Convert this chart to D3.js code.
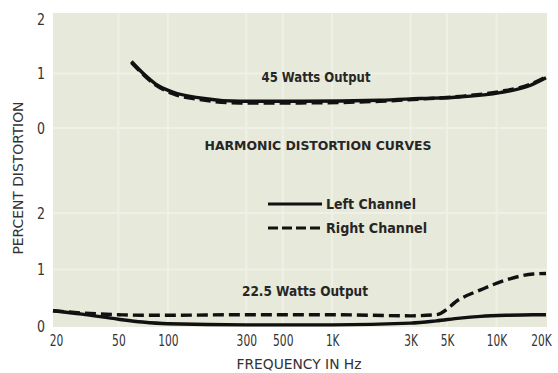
<!DOCTYPE html>
<html>
<head>
<meta charset="utf-8">
<script src="https://cdn.jsdelivr.net/npm/d3@7"></script>
<style>
  html, body { margin: 0; padding: 0; background: #ffffff; }
  svg { display: block; }
  .cond { font-family: "Liberation Sans Narrow", "DejaVu Sans Condensed", "Roboto Condensed", "Liberation Sans", sans-serif; }
</style>
</head>
<body>
<svg id="chart" width="558" height="373"></svg>
<script>
// Frequency tick marks (Hz) and their printed labels
const freqTicks = [20, 50, 100, 300, 500, 1000, 3000, 5000, 10000, 20000];
const freqLabels = ["20", "50", "100", "300", "500", "1K", "3K", "5K", "10K", "20K"];
const pctTicks = [0, 1, 2];

// 45 W output curves (percent THD)
const freq45 = [60, 72, 84, 107, 157, 275, 640, 1950, 3400, 6000, 10500, 16000, 20000];
const left45 = [1.22, 0.98, 0.81, 0.66, 0.55, 0.49, 0.49, 0.51, 0.54, 0.57, 0.65, 0.78, 0.92];
const right45 = [1.20, 0.96, 0.79, 0.63, 0.52, 0.46, 0.46, 0.49, 0.53, 0.58, 0.67, 0.80, 0.94];

// 22.5 W output curves (percent THD)
const freq22 = [20, 30, 50, 70, 100, 300, 1000, 3000, 4300, 6000, 8000, 11600, 16700, 20000];
const left22 = [0.27, 0.21, 0.12, 0.07, 0.04, 0.02, 0.02, 0.05, 0.09, 0.14, 0.17, 0.19, 0.20, 0.20];
const right22 = [0.27, 0.23, 0.20, 0.19, 0.19, 0.20, 0.20, 0.18, 0.20, 0.48, 0.64, 0.82, 0.92, 0.93];

const svg = d3.select("#chart");
const plot = { left: 53, right: 547, top: 13, bottom: 327 };

const x = d3.scaleLog().domain([20, 20000]).range([53, 546]);
const yTop = d3.scaleLinear().domain([0, 2]).range([128, 19]);
const yBot = d3.scaleLinear().domain([0, 2]).range([326, 213]);

// paper background of the graph
svg.append("rect")
  .attr("x", plot.left).attr("y", plot.top)
  .attr("width", plot.right - plot.left).attr("height", plot.bottom - plot.top)
  .attr("fill", "#e7e9da");

// faint grid lines
const grid = svg.append("g").attr("stroke", "#f4f5ec").attr("stroke-width", 2).attr("opacity", 0.7);
grid.selectAll("line.v").data(freqTicks.slice(1, -1)).join("line")
  .attr("x1", d => x(d)).attr("x2", d => x(d))
  .attr("y1", plot.top).attr("y2", plot.bottom);
grid.selectAll("line.ht").data([1, 0]).join("line")
  .attr("x1", plot.left).attr("x2", plot.right)
  .attr("y1", d => yTop(d)).attr("y2", d => yTop(d));
grid.selectAll("line.hb").data([2, 1]).join("line")
  .attr("x1", plot.left).attr("x2", plot.right)
  .attr("y1", d => yBot(d)).attr("y2", d => yBot(d));

// curves
function drawCurve(freqs, vals, yScale, dashed) {
  const line = d3.line()
    .x((d, i) => x(freqs[i]))
    .y(d => yScale(d))
    .curve(d3.curveMonotoneX);
  svg.append("path")
    .attr("d", line(vals))
    .attr("fill", "none")
    .attr("stroke", "#111")
    .attr("stroke-width", 3.4)
    .attr("stroke-linecap", "butt")
    .attr("stroke-dasharray", dashed ? "11,5" : null);
}
drawCurve(freq45, right45, yTop, true);
drawCurve(freq45, left45, yTop, false);
drawCurve(freq22, left22, yBot, false);
drawCurve(freq22, right22, yBot, true);

// axes (labels narrowed to the condensed look of the print)
const xAxis = svg.append("g")
  .attr("class", "cond")
  .attr("transform", `translate(0,${plot.bottom})`)
  .call(d3.axisBottom(x).tickValues(freqTicks).tickFormat((d, i) => freqLabels[i]).tickSize(0).tickPadding(8));
xAxis.select(".domain").remove();
xAxis.selectAll("text")
  .attr("font-size", 15).attr("fill", "#333").attr("font-family", null)
  .attr("lengthAdjust", "spacingAndGlyphs")
  .attr("textLength", function () { return this.textContent.length * 6.8; })
  .attr("dx", d => d === 20000 ? -5 : (d === 20 ? 3 : 0));

[yTop, yBot].forEach(ys => {
  const g = svg.append("g")
    .attr("class", "cond")
    .attr("transform", `translate(${plot.left},0)`)
    .call(d3.axisLeft(ys).tickValues(pctTicks).tickFormat(d3.format("d")).tickSize(0).tickPadding(8));
  g.select(".domain").remove();
  g.selectAll("text")
    .attr("font-size", 16).attr("fill", "#333").attr("font-family", null)
    .attr("lengthAdjust", "spacingAndGlyphs").attr("textLength", 8);
});

// text labels
function label(txt, cx, y, size, weight, len, color) {
  return svg.append("text")
    .attr("class", "cond")
    .attr("x", cx).attr("y", y)
    .attr("text-anchor", "middle")
    .attr("font-size", size)
    .attr("font-weight", weight)
    .attr("fill", color || "#262626")
    .attr("textLength", len)
    .attr("lengthAdjust", "spacingAndGlyphs")
    .text(txt);
}
label("45 Watts Output", 316, 82, 14, "bold", 109);
label("HARMONIC DISTORTION CURVES", 318, 150, 13, "bold", 227);
label("22.5 Watts Output", 305, 296, 14, "bold", 126);
label("FREQUENCY IN Hz", 299, 369, 14, "normal", 125, "#333");
label("PERCENT DISTORTION", 0, 0, 14, "normal", 153, "#333")
  .attr("transform", "translate(23,178) rotate(-90)");

// legend
const legend = [
  { name: "Left Channel", dashed: false, y: 204, len: 90 },
  { name: "Right Channel", dashed: true, y: 228, len: 101 }
];
legend.forEach(d => {
  svg.append("line")
    .attr("x1", 268).attr("x2", 322).attr("y1", d.y).attr("y2", d.y)
    .attr("stroke", "#111").attr("stroke-width", 3)
    .attr("stroke-dasharray", d.dashed ? "10,4" : null);
  svg.append("text")
    .attr("class", "cond")
    .attr("x", 326).attr("y", d.y + 5)
    .attr("font-size", 14).attr("font-weight", "bold").attr("fill", "#262626")
    .attr("textLength", d.len).attr("lengthAdjust", "spacingAndGlyphs")
    .text(d.name);
});
</script>
</body>
</html>
